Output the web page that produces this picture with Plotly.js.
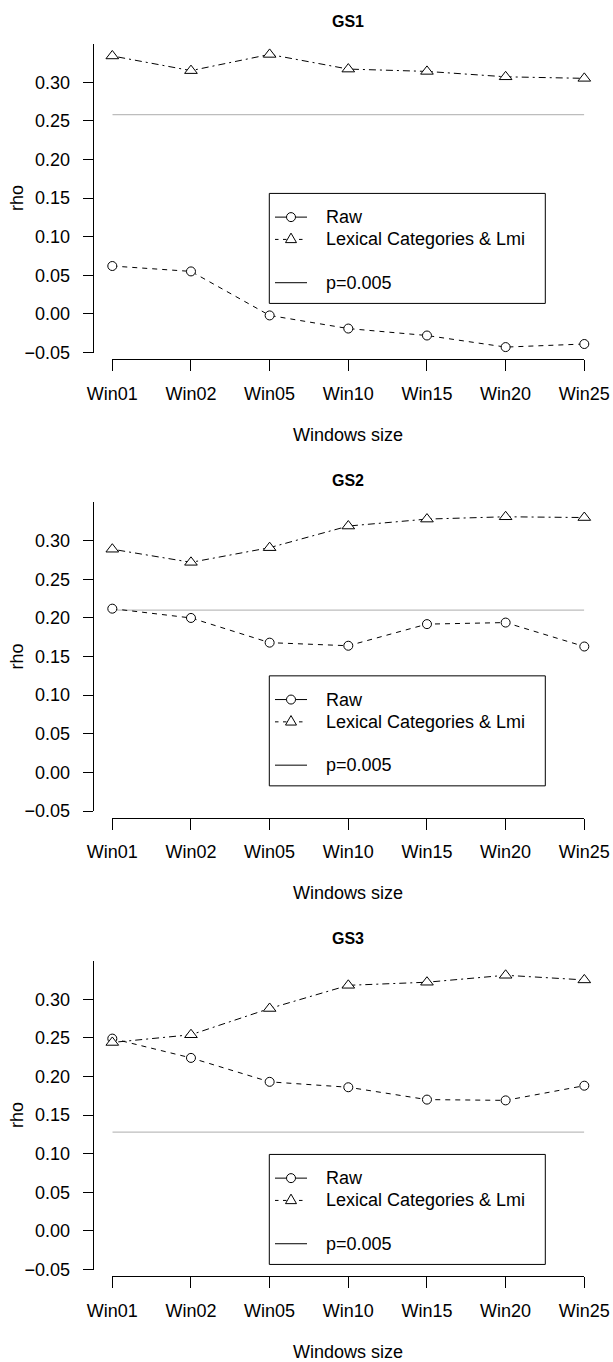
<!DOCTYPE html>
<html>
<head>
<meta charset="utf-8">
<script src="https://cdn.plot.ly/plotly-3.0.1.min.js"></script>
<style>
html,body{margin:0;padding:0;background:#ffffff;}
#chart{width:613px;height:1362px;}
</style>
</head>
<body>
<div id="chart"></div>
<script>
// ---------------- data ----------------
const categories = ['Win01', 'Win02', 'Win05', 'Win10', 'Win15', 'Win20', 'Win25'];
const panelTitles = ['GS1', 'GS2', 'GS3'];
const seriesNames = ['Raw', 'Lexical Categories & Lmi', 'p=0.005'];

const rawGS1 = [0.062, 0.055, -0.002, -0.019, -0.028, -0.043, -0.039];
const lexGS1 = [0.334, 0.315, 0.336, 0.317, 0.314, 0.307, 0.305];
const rawGS2 = [0.212, 0.200, 0.168, 0.164, 0.192, 0.194, 0.163];
const lexGS2 = [0.289, 0.272, 0.291, 0.319, 0.328, 0.331, 0.330];
const rawGS3 = [0.249, 0.224, 0.193, 0.186, 0.170, 0.169, 0.188];
const lexGS3 = [0.244, 0.254, 0.288, 0.318, 0.322, 0.331, 0.325];
const pThreshold = [0.258, 0.210, 0.128];

const yTickVals = [-0.05, 0.00, 0.05, 0.10, 0.15, 0.20, 0.25, 0.30];
const yRange = [-0.05, 0.35];
const legendTopValue = [0.156, 0.125, 0.099];
const xTitle = 'Windows size';
const yTitle = 'rho';

// ---------------- layout geometry (pixels) ----------------
const W = 613, H = 1362;
const PERIOD = 458.5;
const FONT = 'Liberation Sans, Arial, Helvetica, sans-serif';
const geo = {
  yAxisX: 93.3,      // left axis line
  xLeft: 112.3,      // first category
  xRight: 584.3,     // last category
  yTop: 43.6,        // pixel of yRange[1]
  yBottom: 352.5,    // pixel of yRange[0]
  xAxisY: 359.3,     // bottom axis line
  titleY: 21.7,
  xTitleY: 434.5,
  yTitleX: 17,
  legLeft: 269.3, legRight: 545.3, legHeight: 110,
  legRows: [23.7, 46, 89.3],
  legSymL: 275, legSymR: 307, legSymC: 291, legText: 323.5
};
const px = v => v / W;
const py = v => 1 - v / H;
const valToPx = (v, off) => geo.yTop + (yRange[1] - v) / (yRange[1] - yRange[0]) * (geo.yBottom - geo.yTop) + off;

const rawSeries = [rawGS1, rawGS2, rawGS3];
const lexSeries = [lexGS1, lexGS2, lexGS3];

const traces = [];
const layout = {
  width: W, height: H,
  margin: {l: 0, r: 0, t: 0, b: 0, pad: 0},
  paper_bgcolor: '#ffffff',
  plot_bgcolor: 'rgba(0,0,0,0)',
  font: {family: FONT, size: 18, color: '#000000'},
  showlegend: false,
  annotations: [],
  shapes: []
};

const rawMarker = {symbol: 'circle', size: 9, color: '#ffffff', line: {color: '#000000', width: 1}};
const lexMarker = {symbol: 'triangle-up', size: 11, color: '#ffffff', line: {color: '#000000', width: 1}};

for (let k = 0; k < 3; k++) {
  const off = k * PERIOD;
  const sfx = k === 0 ? '' : String(k + 1);
  const xa = 'x' + sfx, ya = 'y' + sfx;

  // threshold line
  traces.push({
    x: categories, y: categories.map(() => pThreshold[k]),
    xaxis: xa, yaxis: ya, mode: 'lines', name: seriesNames[2],
    line: {color: '#bdbdbd', width: 1.2}, hoverinfo: 'skip'
  });
  // raw
  traces.push({
    x: categories, y: rawSeries[k], xaxis: xa, yaxis: ya, name: seriesNames[0],
    mode: 'lines+markers', cliponaxis: false,
    line: {color: '#000000', width: 1, dash: '5px,5px'},
    marker: rawMarker
  });
  // lexical
  traces.push({
    x: categories, y: lexSeries[k], xaxis: xa, yaxis: ya, name: seriesNames[1],
    mode: 'lines+markers', cliponaxis: false,
    line: {color: '#000000', width: 1, dash: '2px,4px,7px,4px'},
    marker: lexMarker
  });

  layout['xaxis' + sfx] = {
    type: 'category', categoryorder: 'array', categoryarray: categories,
    range: [0, categories.length - 1],
    domain: [px(geo.xLeft), px(geo.xRight)],
    anchor: 'free', position: py(geo.xAxisY + off),
    showline: true, linecolor: '#000', linewidth: 1,
    ticks: 'outside', ticklen: 10.7, tickwidth: 1, tickcolor: '#000',
    ticklabelstandoff: 7,
    showgrid: false, zeroline: false, fixedrange: true,
    tickfont: {family: FONT, size: 18, color: '#000'}
  };
  layout['yaxis' + sfx] = {
    range: yRange,
    domain: [py(geo.yBottom + off), py(geo.yTop + off)],
    anchor: 'free', position: px(geo.yAxisX),
    tickvals: yTickVals, tickformat: '.2f',
    showline: true, linecolor: '#000', linewidth: 1,
    ticks: 'outside', ticklen: 10.6, tickwidth: 1, tickcolor: '#000',
    ticklabelstandoff: 9,
    showgrid: false, zeroline: false, fixedrange: true,
    tickfont: {family: FONT, size: 18, color: '#000'}
  };

  // ---- legend (drawn in the R style) ----
  const top = valToPx(legendTopValue[k], 0) + off;
  layout.shapes.push({
    type: 'rect', xref: 'paper', yref: 'paper',
    x0: px(geo.legLeft), x1: px(geo.legRight), y0: py(top + geo.legHeight), y1: py(top),
    line: {color: '#000', width: 1}, fillcolor: 'rgba(0,0,0,0)'
  });
  const rowY = geo.legRows.map(r => top + r);
  const dashes = ['solid', '3.5px,4.5px', 'solid'];
  for (let i = 0; i < 3; i++) {
    layout.shapes.push({
      type: 'line', xref: 'paper', yref: 'paper',
      x0: px(geo.legSymL), x1: px(geo.legSymR), y0: py(rowY[i]), y1: py(rowY[i]),
      line: {color: '#000', width: 1, dash: dashes[i]}
    });
    layout.annotations.push({
      text: seriesNames[i], xref: 'paper', yref: 'paper',
      x: px(geo.legText), y: py(rowY[i]), xanchor: 'left', yanchor: 'middle',
      showarrow: false, font: {family: FONT, size: 18, color: '#000'}
    });
  }
  layout.shapes.push({
    type: 'circle', xref: 'paper', yref: 'paper',
    xsizemode: 'pixel', ysizemode: 'pixel',
    xanchor: px(geo.legSymC), yanchor: py(rowY[0]),
    x0: -4.5, x1: 4.5, y0: -4.5, y1: 4.5,
    fillcolor: '#ffffff', line: {color: '#000', width: 1}
  });
  layout.shapes.push({
    type: 'path', xref: 'paper', yref: 'paper',
    xsizemode: 'pixel', ysizemode: 'pixel',
    xanchor: px(geo.legSymC), yanchor: py(rowY[1]),
    path: 'M-5.5,-3.2L5.5,-3.2L0,6.3Z',
    fillcolor: '#ffffff', line: {color: '#000', width: 1}
  });

  const midX = (geo.yAxisX + (geo.xRight + (geo.xLeft - geo.yAxisX))) / 2;
  layout.annotations.push({
    text: '<b>' + panelTitles[k] + '</b>', xref: 'paper', yref: 'paper',
    x: px(midX), y: py(geo.titleY + off), xanchor: 'center', yanchor: 'middle',
    showarrow: false, font: {family: FONT, size: 16, color: '#000'}
  });
  layout.annotations.push({
    text: xTitle, xref: 'paper', yref: 'paper',
    x: px(midX), y: py(geo.xTitleY + off), xanchor: 'center', yanchor: 'middle',
    showarrow: false, font: {family: FONT, size: 18, color: '#000'}
  });
  layout.annotations.push({
    text: yTitle, xref: 'paper', yref: 'paper', textangle: -90,
    x: px(geo.yTitleX), y: py((geo.yTop + geo.yBottom) / 2 + off), xanchor: 'center', yanchor: 'middle',
    showarrow: false, font: {family: FONT, size: 18, color: '#000'}
  });
}

Plotly.newPlot('chart', traces, layout, {displayModeBar: false, staticPlot: true});
</script>
</body>
</html>
